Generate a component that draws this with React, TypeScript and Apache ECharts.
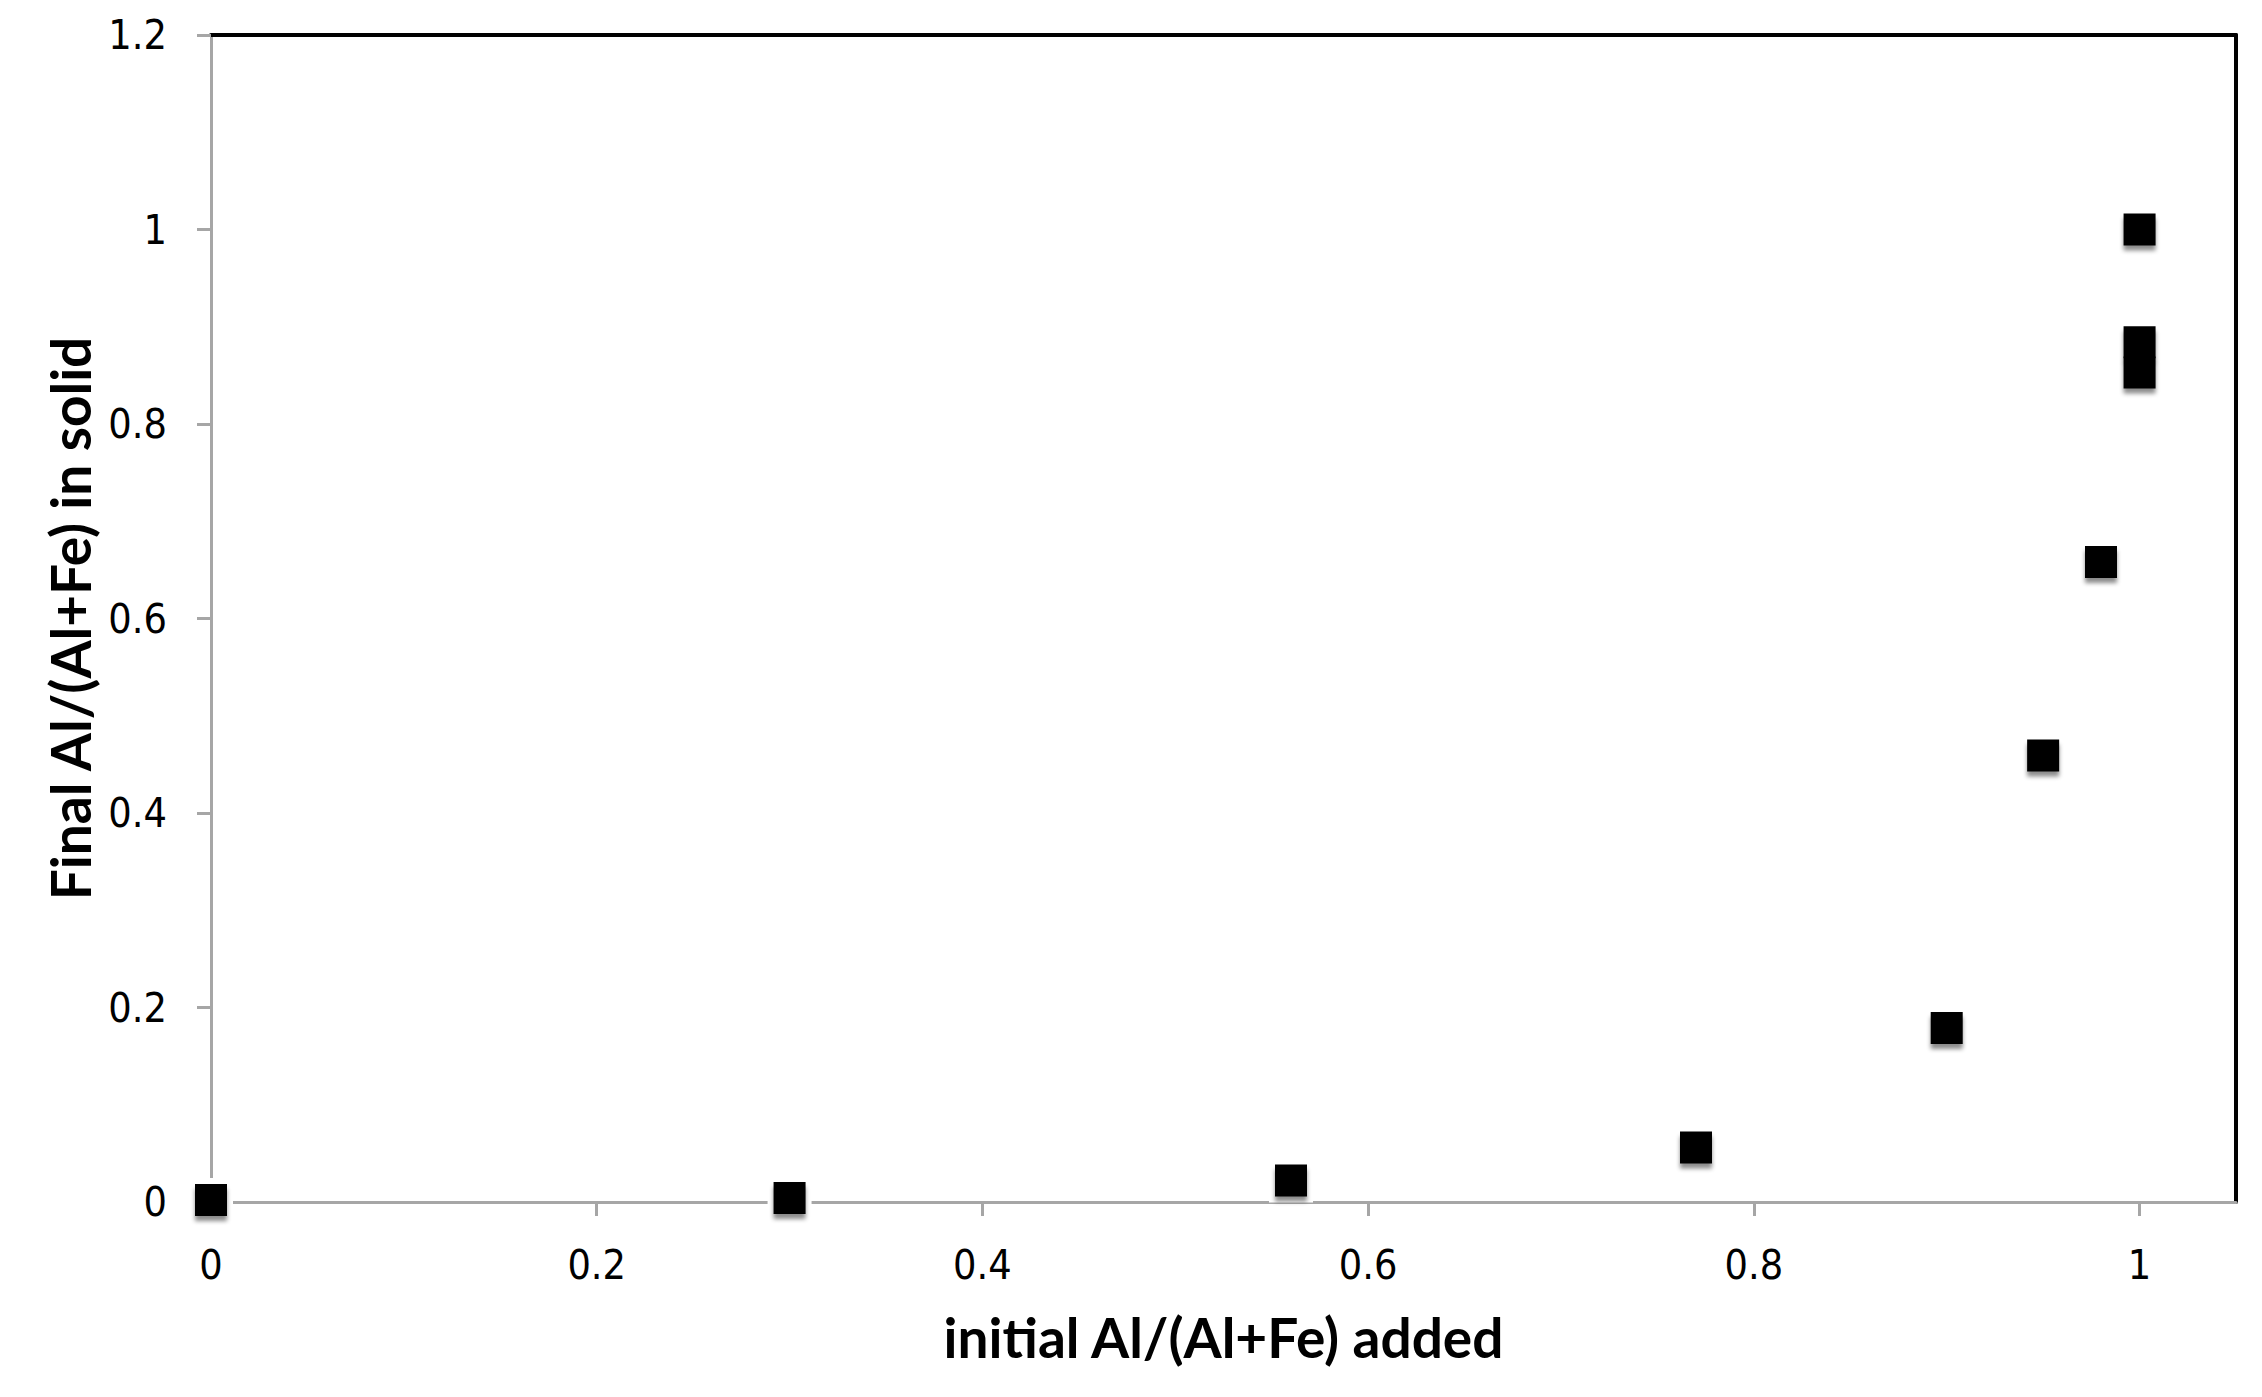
import React, { useEffect, useRef } from "react";
import * as echarts from "echarts";

const xValues = [0, 0.3, 0.56, 0.77, 0.9, 0.95, 0.98, 1.0, 1.0, 1.0];
const yValues = [0.002, 0.004, 0.022, 0.056, 0.179, 0.459, 0.658, 1.0, 0.884, 0.853];
const xTickValues = [0, 0.2, 0.4, 0.6, 0.8, 1];
const xTitle = "initial Al/(Al+Fe) added";
const yTitle = "Final Al/(Al+Fe) in solid";

const tickFont = "'DejaVu Sans Condensed', 'Liberation Sans Narrow', 'DejaVu Sans', sans-serif";
const titleFont = "Lato, 'Open Sans', sans-serif";
const gray = "#a6a6a6";

export default function App() {
  const ref = useRef<HTMLDivElement>(null);
  useEffect(() => {
    if (!ref.current) return;
    const chart = echarts.init(ref.current, null, { renderer: "svg" });
    const points = xValues.map((x, i) => [x, yValues[i]]);
    chart.setOption({
      animation: false,
      backgroundColor: "#ffffff",
      grid: { left: 211, right: 26, top: 35, bottom: 195, containLabel: false },
      xAxis: [
        {
          type: "value",
          min: 0,
          max: 1.05,
          interval: 0.2,
          name: xTitle,
          nameLocation: "middle",
          nameGap: 107,
          nameTextStyle: { fontFamily: titleFont, fontWeight: "bold", fontSize: 55, color: "#000" },
          axisLine: { show: true, onZero: false, lineStyle: { color: gray, width: 3 } },
          axisTick: { show: true, length: 14, inside: false, customValues: xTickValues, lineStyle: { color: gray, width: 3 } },
          axisLabel: { show: true, customValues: xTickValues, margin: 42, fontFamily: tickFont, fontSize: 41, color: "#000" },
          splitLine: { show: false },
        },
        {
          type: "value",
          position: "top",
          min: 0,
          max: 1.05,
          axisLine: { show: true, onZero: false, lineStyle: { color: "#000", width: 4 } },
          axisTick: { show: false },
          axisLabel: { show: false },
          splitLine: { show: false },
        },
      ],
      yAxis: [
        {
          type: "value",
          min: 0,
          max: 1.2,
          interval: 0.2,
          name: yTitle,
          nameLocation: "middle",
          nameGap: 114,
          nameTextStyle: { fontFamily: titleFont, fontWeight: "bold", fontSize: 55, color: "#000" },
          axisLine: { show: true, onZero: false, lineStyle: { color: gray, width: 3 } },
          axisTick: { show: true, length: 14, inside: false, lineStyle: { color: gray, width: 3 } },
          axisLabel: { show: true, margin: 44, fontFamily: tickFont, fontSize: 41, color: "#000" },
          splitLine: { show: false },
        },
        {
          type: "value",
          position: "right",
          min: 0,
          max: 1.2,
          axisLine: { show: true, onZero: false, lineStyle: { color: "#000", width: 4 } },
          axisTick: { show: false },
          axisLabel: { show: false },
          splitLine: { show: false },
        },
      ],
      series: [
        {
          type: "scatter",
          xAxisIndex: 0,
          yAxisIndex: 0,
          data: points,
          symbol: "rect",
          symbolSize: 44,
          clip: false,
          z: 3,
          silent: true,
          itemStyle: { color: "#ffffff", opacity: 1 },
        },
        {
          type: "scatter",
          xAxisIndex: 0,
          yAxisIndex: 0,
          data: points,
          symbol: "rect",
          symbolSize: 32,
          clip: false,
          z: 4,
          itemStyle: {
            color: "#000000",
            opacity: 1,
            shadowColor: "rgba(0,0,0,0.45)",
            shadowBlur: 4,
            shadowOffsetY: 5,
          },
        },
      ],
    });
    return () => chart.dispose();
  }, []);
  return (
    <div
      ref={ref}
      style={{ position: "fixed", left: 0, top: 0, width: 2262, height: 1397, background: "#fff" }}
    />
  );
}
